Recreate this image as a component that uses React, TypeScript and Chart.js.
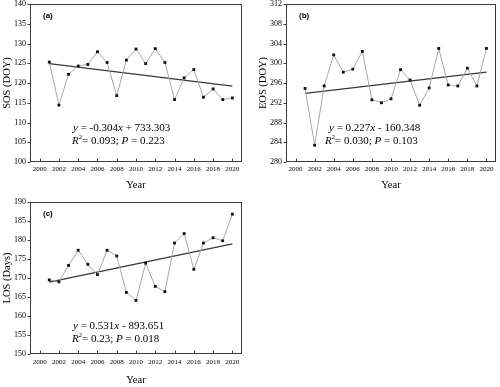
import React, { useEffect, useRef } from 'react';
import { Chart, registerables } from 'chart.js';

Chart.register(...registerables);

// ---------- data ----------
const years = [2001, 2002, 2003, 2004, 2005, 2006, 2007, 2008, 2009, 2010, 2011, 2012, 2013, 2014, 2015, 2016, 2017, 2018, 2019, 2020];
const sosValues = [125.3, 114.4, 122.2, 124.3, 124.7, 127.9, 125.2, 116.8, 125.8, 128.6, 124.9, 128.7, 125.2, 115.8, 121.3, 123.4, 116.4, 118.5, 115.8, 116.2];
const eosValues = [294.9, 283.4, 295.4, 301.7, 298.2, 298.8, 302.4, 292.6, 292.0, 292.8, 298.7, 296.6, 291.5, 295.0, 303.0, 295.6, 295.4, 299.0, 295.4, 303.0];
const losValues = [169.5, 169.0, 173.3, 177.3, 173.6, 170.9, 177.3, 175.8, 166.2, 164.1, 173.9, 167.8, 166.4, 179.2, 181.7, 172.3, 179.2, 180.6, 179.8, 186.8];

const trendYears = [2001, 2020];
const sosTrend = [124.9, 119.2];
const eosTrend = [293.9, 298.2];
const losTrend = [168.9, 179.0];

const xTicks = [2000, 2002, 2004, 2006, 2008, 2010, 2012, 2014, 2016, 2018, 2020];
const sosTicks = [100, 105, 110, 115, 120, 125, 130, 135, 140];
const eosTicks = [280, 284, 288, 292, 296, 300, 304, 308, 312];
const losTicks = [150, 155, 160, 165, 170, 175, 180, 185, 190];

type Seg = { t: string; i?: boolean; sup?: boolean };
const sosEq: Seg[][] = [
  [{ t: 'y', i: true }, { t: ' = -0.304' }, { t: 'x', i: true }, { t: ' + 733.303' }],
  [{ t: 'R', i: true }, { t: '2', sup: true }, { t: '= 0.093; ' }, { t: 'P', i: true }, { t: ' = 0.223' }],
];
const eosEq: Seg[][] = [
  [{ t: 'y', i: true }, { t: ' = 0.227' }, { t: 'x', i: true }, { t: ' - 160.348' }],
  [{ t: 'R', i: true }, { t: '2', sup: true }, { t: '= 0.030; ' }, { t: 'P', i: true }, { t: ' = 0.103' }],
];
const losEq: Seg[][] = [
  [{ t: 'y', i: true }, { t: ' = 0.531' }, { t: 'x', i: true }, { t: ' - 893.651' }],
  [{ t: 'R', i: true }, { t: '2', sup: true }, { t: '= 0.23; ' }, { t: 'P', i: true }, { t: ' = 0.018' }],
];

const SERIF = '"Liberation Serif", "Times New Roman", serif';
const SANS = '"Liberation Sans", Arial, sans-serif';

type PanelDef = {
  left: number; top: number; width: number; height: number;
  pad: { top: number; right: number };
  xAxisH: number; yAxisW: number;
  yTitle: string; label: string;
  values: number[]; trend: number[];
  yTicks: number[];
  eq: Seg[][];
  eqPos: { x: number; y: number }[];
  xTitlePad: number; xTickPad: number;
};

const panels: PanelDef[] = [
  {
    left: 0, top: 0, width: 250, height: 195, pad: { top: 3.5, right: 8 }, xAxisH: 33, yAxisW: 30,
    yTitle: 'SOS (DOY)', label: '(a)', values: sosValues, trend: sosTrend, yTicks: sosTicks, eq: sosEq,
    eqPos: [{ x: 43, y: 124.5 }, { x: 42, y: 137 }], xTitlePad: 3.5, xTickPad: 4,
  },
  {
    left: 256, top: 0, width: 244, height: 195, pad: { top: 3.5, right: 2 }, xAxisH: 33, yAxisW: 30,
    yTitle: 'EOS (DOY)', label: '(b)', values: eosValues, trend: eosTrend, yTicks: eosTicks, eq: eosEq,
    eqPos: [{ x: 43, y: 124.5 }, { x: 39, y: 137 }], xTitlePad: 3.5, xTickPad: 4,
  },
  {
    left: 0, top: 195, width: 250, height: 192, pad: { top: 7, right: 8 }, xAxisH: 33, yAxisW: 30,
    yTitle: 'LOS (Days)', label: '(c)', values: losValues, trend: losTrend, yTicks: losTicks, eq: losEq,
    eqPos: [{ x: 43, y: 124.5 }, { x: 42, y: 137.5 }], xTitlePad: 0, xTickPad: 5,
  },
];

function drawRich(ctx: CanvasRenderingContext2D, segs: Seg[], x: number, y: number, size: number) {
  let cx = x;
  ctx.textBaseline = 'middle';
  ctx.textAlign = 'left';
  for (const s of segs) {
    if (s.sup) {
      ctx.font = `${size * 0.6}px ${SERIF}`;
      ctx.fillText(s.t, cx, y - size * 0.35);
      cx += ctx.measureText(s.t).width;
    } else {
      ctx.font = `${s.i ? 'italic ' : ''}${size}px ${SERIF}`;
      ctx.fillText(s.t, cx, y);
      cx += ctx.measureText(s.t).width;
    }
  }
}

function Panel({ def }: { def: PanelDef }) {
  const ref = useRef<HTMLCanvasElement | null>(null);
  useEffect(() => {
    if (!ref.current) return;
    const yMin = def.yTicks[0];
    const yMax = def.yTicks[def.yTicks.length - 1];
    const framePlugin = {
      id: 'frame' + def.label,
      afterDraw(chart: any) {
        const { ctx, chartArea: a, scales } = chart;
        ctx.save();
        ctx.strokeStyle = '#3c3c3c';
        ctx.lineWidth = 1;
        const l = Math.round(a.left) + 0.5, r = Math.round(a.right) - 0.5;
        const t = Math.round(a.top) + 0.5, b = Math.round(a.bottom) - 0.5;
        ctx.strokeRect(l, t, r - l, b - t);
        ctx.beginPath();
        for (const v of xTicks) {
          const px = Math.round(scales.x.getPixelForValue(v)) + 0.5;
          ctx.moveTo(px, b);
          ctx.lineTo(px, b - 3);
        }
        for (const v of def.yTicks) {
          const py = Math.round(scales.y.getPixelForValue(v)) + 0.5;
          ctx.moveTo(l, py);
          ctx.lineTo(l - 3, py);
        }
        ctx.stroke();
        ctx.fillStyle = '#000';
        ctx.font = `bold 8px ${SANS}`;
        ctx.textAlign = 'left';
        ctx.textBaseline = 'middle';
        ctx.fillText(def.label, a.left + 13, a.top + 12);
        def.eq.forEach((line, i) => {
          drawRich(ctx, line, a.left + def.eqPos[i].x, a.top + def.eqPos[i].y, 11);
        });
        ctx.restore();
      },
    };
    const chart = new Chart(ref.current, {
      type: 'line',
      data: {
        datasets: [
          {
            data: years.map((yr, i) => ({ x: yr, y: def.values[i] })),
            borderColor: '#a8a8a8',
            borderWidth: 1,
            pointStyle: 'rect',
            pointRadius: 2,
            pointBackgroundColor: '#111',
            pointBorderColor: '#111',
            pointBorderWidth: 0,
            tension: 0,
          },
          {
            data: trendYears.map((yr, i) => ({ x: yr, y: def.trend[i] })),
            borderColor: '#383838',
            borderWidth: 1.3,
            pointRadius: 0,
            tension: 0,
          },
        ],
      },
      options: {
        animation: false,
        responsive: false,
        devicePixelRatio: 1,
        layout: { padding: { top: def.pad.top, right: def.pad.right, left: 0, bottom: 0 } },
        plugins: { legend: { display: false }, tooltip: { enabled: false } },
        scales: {
          x: {
            type: 'linear',
            min: 1999,
            max: 2021,
            grid: { display: false, drawTicks: false, tickLength: 0 },
            border: { display: false },
            afterBuildTicks: (s: any) => { s.ticks = xTicks.map((v) => ({ value: v })); },
            afterFit: (s: any) => { s.height = def.xAxisH; },
            ticks: {
              callback: (v: any) => String(v),
              autoSkip: false,
              maxRotation: 0,
              minRotation: 0,
              padding: def.xTickPad,
              color: '#000',
              font: { family: SERIF, size: 7, lineHeight: 1 },
            },
            title: {
              display: true,
              text: 'Year',
              color: '#000',
              font: { family: SERIF, size: 10.5, lineHeight: 1.2 },
              padding: { top: 0, bottom: def.xTitlePad },
            },
          },
          y: {
            type: 'linear',
            min: yMin,
            max: yMax,
            grid: { display: false, drawTicks: true, tickLength: 4 },
            border: { display: false },
            afterBuildTicks: (s: any) => { s.ticks = def.yTicks.map((v) => ({ value: v })); },
            afterFit: (s: any) => { s.width = def.yAxisW; },
            ticks: {
              callback: (v: any) => String(v),
              autoSkip: false,
              padding: 0,
              color: '#000',
              font: { family: SERIF, size: 8, lineHeight: 1 },
            },
            title: {
              display: true,
              text: def.yTitle,
              color: '#000',
              font: { family: SERIF, size: 10.5, lineHeight: 1.2 },
              padding: { top: 0.5, bottom: 0 },
            },
          },
        },
      },
      plugins: [framePlugin],
    } as any);
    return () => chart.destroy();
  }, [def]);
  return (
    <canvas
      ref={ref}
      width={def.width}
      height={def.height}
      style={{ position: 'absolute', left: def.left, top: def.top, width: def.width, height: def.height }}
    />
  );
}

export default function App() {
  return (
    <div style={{ position: 'fixed', left: 0, top: 0, width: 500, height: 387, background: '#fff', overflow: 'hidden' }}>
      {panels.map((p) => (
        <Panel key={p.label} def={p} />
      ))}
    </div>
  );
}
